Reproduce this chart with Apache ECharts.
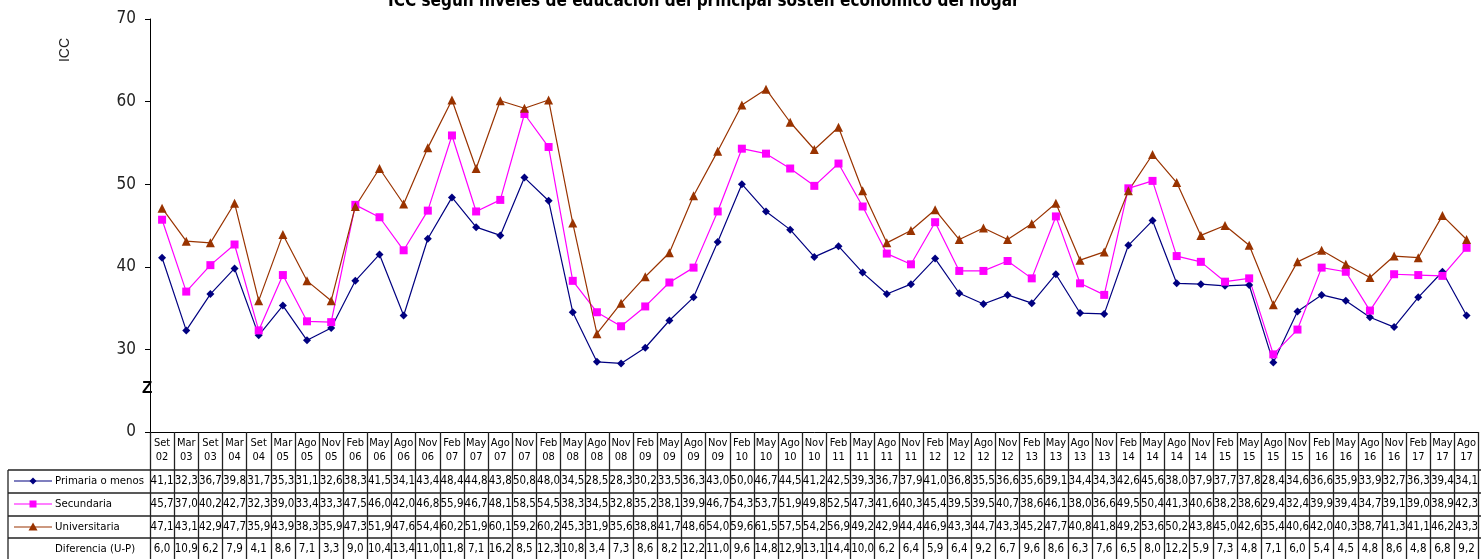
<!DOCTYPE html>
<html>
<head>
<meta charset="utf-8">
<script src="https://cdn.jsdelivr.net/npm/echarts@6/dist/echarts.min.js"></script>
<style>
html, body { margin: 0; padding: 0; background: #fff; }
#chart { width: 1481px; height: 559px; }
</style>
</head>
<body>
<div id="chart"></div>
<script>
var periodos = ['Set\n02','Mar\n03','Set\n03','Mar\n04','Set\n04','Mar\n05','Ago\n05','Nov\n05',
  'Feb\n06','May\n06','Ago\n06','Nov\n06','Feb\n07','May\n07','Ago\n07','Nov\n07',
  'Feb\n08','May\n08','Ago\n08','Nov\n08','Feb\n09','May\n09','Ago\n09','Nov\n09',
  'Feb\n10','May\n10','Ago\n10','Nov\n10','Feb\n11','May\n11','Ago\n11','Nov\n11',
  'Feb\n12','May\n12','Ago\n12','Nov\n12','Feb\n13','May\n13','Ago\n13','Nov\n13',
  'Feb\n14','May\n14','Ago\n14','Nov\n14','Feb\n15','May\n15','Ago\n15','Nov\n15',
  'Feb\n16','May\n16','Ago\n16','Nov\n16','Feb\n17','May\n17','Ago\n17'];

var primaria = [41.1,32.3,36.7,39.8,31.7,35.3,31.1,32.6,38.3,41.5,34.1,43.4,48.4,44.8,43.8,50.8,
  48.0,34.5,28.5,28.3,30.2,33.5,36.3,43.0,50.0,46.7,44.5,41.2,42.5,39.3,36.7,37.9,
  41.0,36.8,35.5,36.6,35.6,39.1,34.4,34.3,42.6,45.6,38.0,37.9,37.7,37.8,28.4,34.6,
  36.6,35.9,33.9,32.7,36.3,39.4,34.1];

var secundaria = [45.7,37.0,40.2,42.7,32.3,39.0,33.4,33.3,47.5,46.0,42.0,46.8,55.9,46.7,48.1,58.5,
  54.5,38.3,34.5,32.8,35.2,38.1,39.9,46.7,54.3,53.7,51.9,49.8,52.5,47.3,41.6,40.3,
  45.4,39.5,39.5,40.7,38.6,46.1,38.0,36.6,49.5,50.4,41.3,40.6,38.2,38.6,29.4,32.4,
  39.9,39.4,34.7,39.1,39.0,38.9,42.3];

var universitaria = [47.1,43.1,42.9,47.7,35.9,43.9,38.3,35.9,47.3,51.9,47.6,54.4,60.2,51.9,60.1,59.2,
  60.2,45.3,31.9,35.6,38.8,41.7,48.6,54.0,59.6,61.5,57.5,54.2,56.9,49.2,42.9,44.4,
  46.9,43.3,44.7,43.3,45.2,47.7,40.8,41.8,49.2,53.6,50.2,43.8,45.0,42.6,35.4,40.6,
  42.0,40.3,38.7,41.3,41.1,46.2,43.3];

var diferencia = [6.0,10.9,6.2,7.9,4.1,8.6,7.1,3.3,9.0,10.4,13.4,11.0,11.8,7.1,16.2,8.5,
  12.3,10.8,3.4,7.3,8.6,8.2,12.2,11.0,9.6,14.8,12.9,13.1,14.4,10.0,6.2,6.4,
  5.9,6.4,9.2,6.7,9.6,8.6,6.3,7.6,6.5,8.0,12.2,5.9,7.3,4.8,7.1,6.0,
  5.4,4.5,4.8,8.6,4.8,6.8,9.2];

var nombres = ['Primaria o menos', 'Secundaria', 'Universitaria', 'Diferencia (U-P)'];
var colores = ['#000080', '#ff00ff', '#993300'];

var narrow = "'Liberation Sans Narrow', 'DejaVu Sans Condensed', sans-serif";
var tabla = "'DejaVu Sans Condensed', 'DejaVu Sans', sans-serif";

function coma(v) { return v.toFixed(1).replace('.', ','); }

var chart = echarts.init(document.getElementById('chart'));

// filas de la tabla como ejes extra
var filas = [primaria, secundaria, universitaria, diferencia];
var centros = [49, 72, 95, 117];
var ejesX = [{
  type: 'category',
  data: periodos,
  boundaryGap: true,
  axisLine: { show: true, lineStyle: { color: '#000', width: 1 } },
  axisTick: { show: true, inside: false, alignWithLabel: false, interval: 0, length: 130, lineStyle: { color: '#222', width: 1.3 } },
  axisLabel: { interval: 0, margin: 4, lineHeight: 14, fontSize: 11, fontFamily: tabla, color: '#000' }
}];
filas.forEach(function (f, i) {
  ejesX.push({
    type: 'category',
    position: 'bottom',
    offset: centros[i],
    data: f.map(coma),
    axisLine: { show: false },
    axisTick: { show: false },
    axisLabel: { interval: 0, margin: 0, verticalAlign: 'middle', fontSize: 11.5, fontFamily: tabla, color: '#000' }
  });
});

// bordes y leyenda de la tabla
var graficos = [];
[470, 493, 516, 538].forEach(function (y) {
  graficos.push({ type: 'line', shape: { x1: 8, y1: y, x2: 1481, y2: y }, style: { stroke: '#222', lineWidth: 1.3 } });
});
graficos.push({ type: 'line', shape: { x1: 8, y1: 470, x2: 8, y2: 559 }, style: { stroke: '#222', lineWidth: 1.3 } });
var yl = [481, 504, 527, 549];
for (var i = 0; i < 4; i++) {
  if (i < 3) {
    graficos.push({ type: 'line', shape: { x1: 14, y1: yl[i], x2: 52, y2: yl[i] }, style: { stroke: colores[i], lineWidth: 1.2 } });
  }
  graficos.push({ type: 'text', x: 55, y: yl[i], style: { text: nombres[i], fontSize: 11.3, fontFamily: tabla, fill: '#000', verticalAlign: 'middle' } });
}
graficos.push({ type: 'polygon', shape: { points: [[33, yl[0] - 3.5], [36.5, yl[0]], [33, yl[0] + 3.5], [29.5, yl[0]]] }, style: { fill: colores[0] } });
graficos.push({ type: 'rect', shape: { x: 29.5, y: yl[1] - 3.5, width: 7, height: 7 }, style: { fill: colores[1] } });
graficos.push({ type: 'polygon', shape: { points: [[33, yl[2] - 4.5], [37.5, yl[2] + 3.5], [28.5, yl[2] + 3.5]] }, style: { fill: colores[2] } });
graficos.push({ type: 'text', x: 65, y: 50, rotation: Math.PI / 2, style: { text: 'ICC', fontSize: 14, fontFamily: 'Liberation Sans, sans-serif', fill: '#222', align: 'center', verticalAlign: 'middle' } });
graficos.push({ type: 'text', x: 142, y: 380, style: { text: 'Z', fontSize: 17, fontWeight: 'bold', fontFamily: 'Liberation Sans, sans-serif', fill: '#000' } });

var option = {
  backgroundColor: '#fff',
  animation: false,
  title: {
    text: 'ICC según niveles de educación del principal sostén económico del hogar',
    left: 383,
    top: -12,
    textStyle: { fontSize: 17, fontWeight: 'bold', fontFamily: narrow, color: '#000' }
  },
  grid: { left: 150, top: 19, width: 1339, height: 413 },
  xAxis: ejesX,
  yAxis: {
    type: 'value',
    min: 20,
    max: 70,
    interval: 10,
    axisLine: { show: true, lineStyle: { color: '#000', width: 1 } },
    axisTick: { show: true, length: 5, lineStyle: { color: '#000' } },
    splitLine: { show: false },
    axisLabel: {
      fontSize: 17, fontFamily: narrow, color: '#222', margin: 14,
      formatter: function (v) { return v === 20 ? '0' : String(v); }
    }
  },
  series: [
    { name: nombres[0], type: 'line', data: primaria, symbol: 'diamond', symbolSize: 8,
      lineStyle: { color: colores[0], width: 1.2 }, itemStyle: { color: colores[0] } },
    { name: nombres[1], type: 'line', data: secundaria, symbol: 'rect', symbolSize: 8,
      lineStyle: { color: colores[1], width: 1.2 }, itemStyle: { color: colores[1] } },
    { name: nombres[2], type: 'line', data: universitaria, symbol: 'triangle', symbolSize: 9,
      lineStyle: { color: colores[2], width: 1.2 }, itemStyle: { color: colores[2] } }
  ],
  graphic: graficos
};

chart.setOption(option);
</script>
</body>
</html>
